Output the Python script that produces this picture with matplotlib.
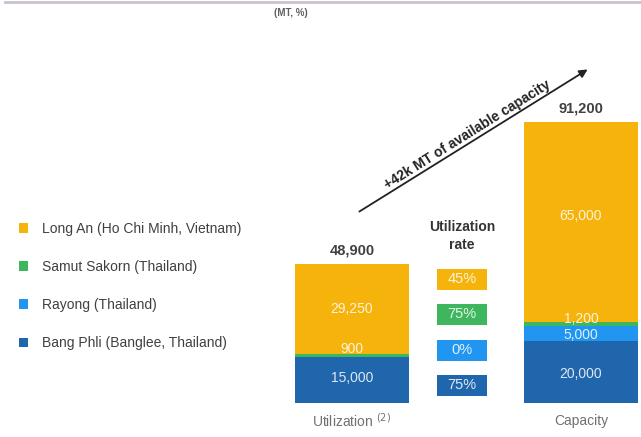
import numpy as np
import matplotlib.pyplot as plt
from matplotlib.patches import Rectangle

# sites, bottom to top of each stack
sites = ["Bang Phli (Banglee, Thailand)", "Rayong (Thailand)",
         "Samut Sakorn (Thailand)", "Long An (Ho Chi Minh, Vietnam)"]
colors = ["#1F66AC", "#2196F0", "#3DB65E", "#F5B30C"]
bars = ["Utilization $^{(2)}$", "Capacity"]
utilization = [15000, 0, 900, 29250]
capacity = [20000, 5000, 1200, 65000]
totals = ["48,900", "91,200"]
util_rate = ["75%", "0%", "75%", "45%"]

W, H = 641, 437
fig = plt.figure(figsize=(W / 100, H / 100), dpi=100)
plt.rcParams["font.family"] = ["Liberation Sans", "DejaVu Sans"]


def fp(x, y):
    # pixel position measured from top-left -> figure fraction
    return x / W, 1 - y / H


# bar panel: category 0 centred at px 352, category 1 at px 581
ax = fig.add_axes([280 / W, 0, 361 / W, 1])
px_per_unit = 229
ax.set_xlim((280 - 352) / px_per_unit, (641 - 352) / px_per_unit)
k = 1000 / 3.08  # data units per pixel
ax.set_ylim(-(437 - 403) * k, 403 * k)
ax.axis("off")

x = np.arange(2)
width = 0.495
stacks = np.array([utilization, capacity]).T
bottom = np.zeros(2)
handles = []
for i, (name, col) in enumerate(zip(sites, colors)):
    b = ax.bar(x, stacks[i], width, bottom=bottom, color=col, label=name,
               edgecolor="none")
    handles.append(b)
    bottom += stacks[i]

# segment labels
lbl = dict(color="white", fontsize=10, ha="center", va="center", alpha=0.85)
ax.text(0, 15000 / 2 + 500, "15,000", **lbl)
ax.text(0, 15900 + 1700, "900", **lbl)
ax.text(0, 15900 + 29250 / 2, "29,250", **lbl)
ax.text(1, 20000 / 2 - 600, "20,000", **lbl)
ax.text(1, 20000 + 2200, "5,000", **lbl)
ax.text(1, 26200 + 1000, "1,200", **lbl)
ax.text(1, 26200 + 65000 / 2 + 2000, "65,000", **lbl)

# totals above bars
for xi, tot, t in zip(x, bottom, totals):
    ax.text(xi, tot + 4300, t, ha="center", va="center", fontsize=10.5,
            color="#404040", fontweight="bold")

for xi, name in zip(x, bars):
    ax.text(xi, -18 * k, name, ha="center", va="center", fontsize=10,
            color="#707070")

# utilization rate boxes
bx = (462 - 352) / px_per_unit
bw = 50 / px_per_unit
bh = 21 * k
centers_px = [385, 350, 314, 279]
for rate, col, cy in zip(util_rate, colors, centers_px):
    yc = (403 - cy) * k
    ax.add_patch(Rectangle((bx - bw / 2, yc - bh / 2), bw, bh,
                           facecolor=col, edgecolor="none"))
    ax.text(bx, yc, rate, ha="center", va="center", fontsize=10.5,
            color="white", alpha=0.85)
ax.text(bx, (403 - 236) * k, "Utilization\nrate", ha="center", va="center",
        fontsize=10, fontweight="bold", color="#333333", linespacing=1.3)

# header rule and unit note
fig.add_artist(plt.Line2D([5 / W, 1], [1 - 1.5 / H] * 2, color="#C9C1CC",
                          lw=2))
fig.text(*fp(291, 13), "(MT, %)", ha="center", va="center", fontsize=7,
         color="#606060", fontweight="bold")

# arrow showing the spare capacity
ax.annotate("", xy=fp(590, 68), xytext=fp(357, 213),
            xycoords="figure fraction", textcoords="figure fraction",
            arrowprops=dict(arrowstyle="-|>", color="#222222", lw=1.3,
                            mutation_scale=12))
fig.text(*fp(467, 135), "+42k MT of available capacity", rotation=32,
         rotation_mode="anchor", ha="center", va="center", fontsize=10,
         fontweight="bold", color="#222222")

fig.legend(handles=handles[::-1], labels=sites[::-1], loc="upper left",
           bbox_to_anchor=fp(6, 209), frameon=False, fontsize=10,
           labelcolor="#404040", handlelength=0.7, handleheight=0.7,
           handletextpad=1.0, labelspacing=1.75)

fig.savefig("out.png", dpi=100)
